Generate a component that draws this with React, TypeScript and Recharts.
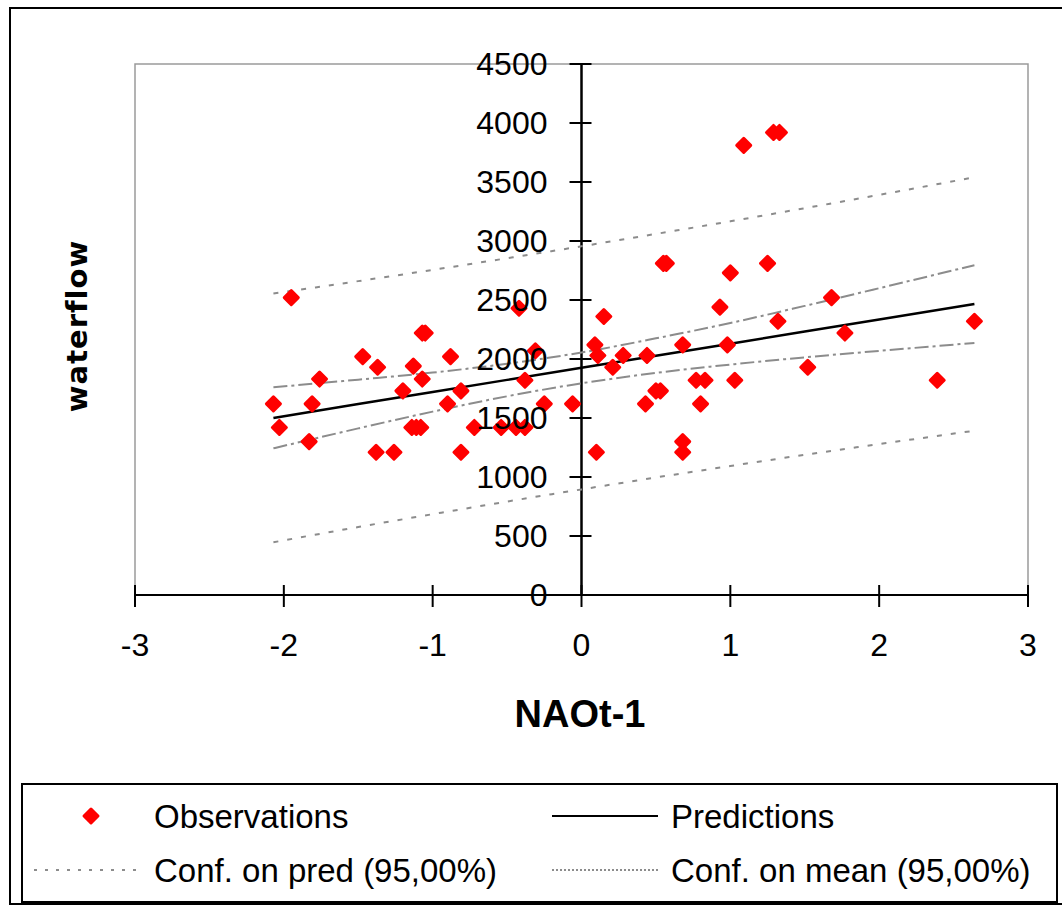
import React from 'react';
import { ComposedChart, Scatter, Line, XAxis, YAxis, ReferenceLine, ReferenceArea } from 'recharts';

// observations: NAOt-1 vs waterflow
const obsX = [
  -2.07, -2.03, -1.95, -1.83, -1.81, -1.76, -1.47, -1.37, -1.38, -1.26,
  -1.2, -1.13, -1.07, -1.05, -1.07, -1.14, -1.11, -1.08, -0.9, -0.88,
  -0.81, -0.81, -0.72, -0.54, -0.44, -0.38, -0.42, -0.31, -0.38, -0.25,
  -0.06, 0.1, 0.15, 0.09, 0.11, 0.21, 0.28, 0.43, 0.44, 0.5,
  0.53, 0.55, 0.57, 0.68, 0.68, 0.68, 0.77, 0.8, 0.83, 0.93,
  0.98, 1.0, 1.03, 1.09, 1.25, 1.29, 1.33, 1.32, 1.52, 1.68,
  1.77, 2.39, 2.64,
];
const obsY = [
  1620, 1420, 2520, 1300, 1620, 1830, 2020, 1930, 1210, 1210,
  1730, 1940, 2220, 2220, 1830, 1420, 1420, 1420, 1620, 2020,
  1730, 1210, 1420, 1420, 1420, 1420, 2430, 2070, 1820, 1620,
  1620, 1210, 2360, 2120, 2030, 1930, 2030, 1620, 2030, 1730,
  1730, 2810, 2810, 2120, 1300, 1210, 1820, 1620, 1820, 2440,
  2120, 2730, 1820, 3810, 2810, 3920, 3920, 2320, 1930, 2520,
  2220, 1820, 2320,
];

// fitted line and bands, read at these x positions
const fitX = [-2.07, -1.5, -1, -0.5, 0, 0.5, 1, 1.5, 2, 2.64];
const predictions = [1500, 1618, 1720, 1823, 1925, 2028, 2130, 2233, 2335, 2466];
const meanUpper = [1760, 1825, 1885, 1960, 2055, 2175, 2305, 2450, 2600, 2795];
const meanLower = [1243, 1412, 1554, 1684, 1794, 1882, 1953, 2014, 2069, 2136];
const predUpper = [2555, 2660, 2755, 2854, 2955, 3060, 3167, 3278, 3391, 3540];
const predLower = [447, 576, 685, 792, 895, 996, 1093, 1188, 1279, 1392];

const xTicks = [-3, -2, -1, 0, 1, 2, 3];
const yTicks = [0, 500, 1000, 1500, 2000, 2500, 3000, 3500, 4000, 4500];

const observations = obsX.map((x, i) => ({ x, y: obsY[i] }));
const toLine = (vals: number[]) => fitX.map((x, i) => ({ x, y: vals[i] }));

const W = 1062;
const H = 908;
const Y_AXIS_W = 60;
const M = { top: 64, right: 34, bottom: 273, left: 135 - Y_AXIS_W };
const PLOT_BOTTOM = 595;
const AXIS_X = 135 + (W - 135 - M.right) / 2;
const FONT = '"Liberation Sans", Arial, sans-serif';

const RED = '#ff0000';
const GREY = '#8c8c8c';

const Diamond = (props: any) => {
  const { cx, cy } = props;
  if (cx == null || cy == null) return null;
  const r = 7;
  return (
    <polygon
      points={`${cx},${cy - r} ${cx + r},${cy} ${cx},${cy + r} ${cx - r},${cy}`}
      fill={RED}
      stroke={RED}
      strokeWidth={3}
      strokeLinejoin="round"
    />
  );
};

const XTick = (props: any) => {
  const { x, payload } = props;
  return (
    <g>
      <line x1={x} x2={x} y1={PLOT_BOTTOM - 10} y2={PLOT_BOTTOM + 12} stroke="#000" strokeWidth={2} />
      <text x={x} y={656} textAnchor="middle" fontFamily={FONT} fontSize={32} fill="#000">
        {payload.value}
      </text>
    </g>
  );
};

const YTick = (props: any) => {
  const { y, payload } = props;
  return (
    <g>
      <line x1={AXIS_X - 12} x2={AXIS_X + 10} y1={y} y2={y} stroke="#000" strokeWidth={2} />
      <text x={AXIS_X - 34} y={y + 11} textAnchor="end" fontFamily={FONT} fontSize={32} fill="#000">
        {payload.value}
      </text>
    </g>
  );
};

const legendRows = [
  [
    { name: 'Observations', kind: 'marker' },
    { name: 'Predictions', kind: 'solid' },
  ],
  [
    { name: 'Conf. on pred (95,00%)', kind: 'pred' },
    { name: 'Conf. on mean (95,00%)', kind: 'mean' },
  ],
];

const PRED_DASH = '5 9';
const MEAN_DASH = '14 4 3 4';

export default function App() {
  return (
    <div style={{ position: 'absolute', left: 0, top: 0, width: W, height: H, overflow: 'hidden', background: '#fff' }}>
      <div
        style={{
          position: 'absolute',
          left: 9,
          top: 7,
          width: W,
          height: 898,
          border: '2px solid #000',
          boxSizing: 'border-box',
        }}
      />
      <div style={{ position: 'absolute', left: 0, top: 0 }}>
        <ComposedChart width={W} height={H} margin={M}>
          <XAxis
            type="number"
            dataKey="x"
            domain={[-3, 3]}
            ticks={xTicks}
            interval={0}
            height={40}
            axisLine={{ stroke: '#000', strokeWidth: 2 }}
            tickLine={false}
            tick={<XTick />}
            allowDataOverflow
          />
          <YAxis
            type="number"
            domain={[0, 4500]}
            ticks={yTicks}
            interval={0}
            width={Y_AXIS_W}
            axisLine={false}
            tickLine={false}
            tick={<YTick />}
            allowDataOverflow
          />
          <ReferenceArea x1={-3} x2={3} y1={0} y2={4500} fillOpacity={0} stroke="#9a9a9a" strokeWidth={1.5} />
          <ReferenceLine x={0} stroke="#000" strokeWidth={2.5} />
          <Line data={toLine(predUpper)} dataKey="y" type="monotone" stroke={GREY} strokeWidth={2} strokeDasharray={PRED_DASH} dot={false} isAnimationActive={false} />
          <Line data={toLine(predLower)} dataKey="y" type="monotone" stroke={GREY} strokeWidth={2} strokeDasharray={PRED_DASH} dot={false} isAnimationActive={false} />
          <Line data={toLine(meanUpper)} dataKey="y" type="monotone" stroke={GREY} strokeWidth={2} strokeDasharray={MEAN_DASH} dot={false} isAnimationActive={false} />
          <Line data={toLine(meanLower)} dataKey="y" type="monotone" stroke={GREY} strokeWidth={2} strokeDasharray={MEAN_DASH} dot={false} isAnimationActive={false} />
          <Line data={toLine(predictions)} dataKey="y" type="linear" stroke="#000" strokeWidth={2.5} dot={false} isAnimationActive={false} />
          <Scatter data={observations} dataKey="y" shape={Diamond} isAnimationActive={false} />
        </ComposedChart>
      </div>
      <svg width={W} height={H} style={{ position: 'absolute', left: 0, top: 0, pointerEvents: 'none' }}>
        <text
          transform="translate(87,326) rotate(-90)"
          textAnchor="middle"
          fontFamily='"DejaVu Sans", Verdana, sans-serif'
          fontWeight="bold"
          fontSize={29}
          letterSpacing={1}
          fill="#000"
        >
          waterflow
        </text>
        <text x={580} y={727} textAnchor="middle" fontFamily={FONT} fontWeight="bold" fontSize={38} fill="#000">
          NAOt-1
        </text>
        <rect x={22} y={784} width={1035} height={118} fill="#fff" stroke="#000" strokeWidth={2} />
        {legendRows.map((row, ri) =>
          row.map((item, ci) => {
            const cy = ri === 0 ? 816 : 870;
            const sx = ci === 0 ? 34 : 552;
            const tx = ci === 0 ? 154 : 671;
            let sym: React.ReactNode = null;
            if (item.kind === 'marker') {
              sym = <Diamond cx={91} cy={cy} />;
            } else {
              const dash = item.kind === 'pred' ? '3 8' : item.kind === 'mean' ? '2 2' : undefined;
              sym = (
                <line
                  x1={sx}
                  x2={sx + 106}
                  y1={cy}
                  y2={cy}
                  stroke={item.kind === 'solid' ? '#000' : GREY}
                  strokeWidth={2}
                  strokeDasharray={dash}
                />
              );
            }
            return (
              <g key={item.name}>
                {sym}
                <text x={tx} y={cy + 12} fontFamily={FONT} fontSize={33} fill="#000">
                  {item.name}
                </text>
              </g>
            );
          })
        )}
      </svg>
    </div>
  );
}
